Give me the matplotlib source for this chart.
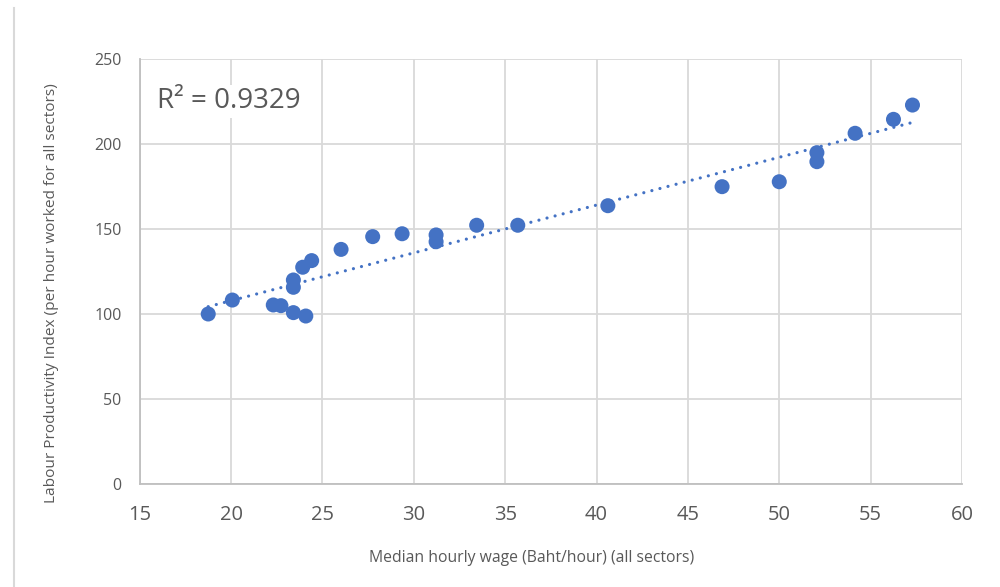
import numpy as np
import matplotlib
matplotlib.use("Agg")
import matplotlib.pyplot as plt
from matplotlib.lines import Line2D

wage = [18.75, 20.07, 22.31, 22.73, 23.41, 24.09, 23.41, 23.41, 23.92, 24.41,
        26.02, 27.75, 29.36, 31.22, 31.22, 33.44, 35.69, 40.62, 46.87, 50.0,
        52.06, 52.06, 54.15, 56.25, 57.29]
productivity = [100.0, 108.2, 105.3, 104.9, 100.8, 98.8, 115.7, 120.0, 127.5, 131.4,
                138.0, 145.5, 147.2, 146.5, 142.5, 152.2, 152.2, 163.7, 174.9, 177.8,
                189.6, 194.9, 206.3, 214.5, 222.9]
r2_label = "R² = 0.9329"
x_ticks = [15, 20, 25, 30, 35, 40, 45, 50, 55, 60]
y_ticks = [0, 50, 100, 150, 200, 250]
x_title = "Median hourly wage (Baht/hour) (all sectors)"
y_title = "Labour Productivity Index (per hour worked for all sectors)"

blue = "#4472C4"
grid_c = "#D9D9D9"
text_c = "#595959"
font = ["Open Sans", "DejaVu Sans"]
plt.rcParams["font.family"] = font

fig = plt.figure(figsize=(10, 5.87), dpi=100)
ax = fig.add_axes([0.1397, 0.1755, 0.8223, 0.724])

x = np.array(wage)
y = np.array(productivity)
coef = np.polyfit(x, y, 1)
xs = np.array([x.min(), x.max()])
ax.plot(xs, np.polyval(coef, xs), color=blue, lw=2.3,
        linestyle=(0, (0.01, 2.6)), dash_capstyle="round", zorder=2)
ax.scatter(x, y, s=117, color=blue, edgecolors="none", zorder=3)

ax.set_xlim(15, 60)
ax.set_ylim(0, 250)
ax.set_xticks(x_ticks)
ax.set_yticks(y_ticks)
ax.grid(True, color=grid_c, lw=1.3, zorder=0)
ax.set_axisbelow(True)
for s in ["top", "right"]:
    ax.spines[s].set_visible(False)
for s in ["left", "bottom"]:
    ax.spines[s].set_color("#BFBFBF")
    ax.spines[s].set_linewidth(1.3)
ax.tick_params(length=0, colors=text_c)
ax.tick_params(axis="x", labelsize=14.5, pad=15)
ax.tick_params(axis="y", labelsize=11.5, pad=13)

ax.set_xlabel(x_title, fontsize=11.3, color=text_c, labelpad=15)
ax.xaxis.set_label_coords(0.4765, -0.155)
ax.set_ylabel(y_title, fontsize=11.1, color=text_c)
ax.yaxis.set_label_coords(-0.098, 0.45)

ax.text(0.021, 0.9, r2_label, transform=ax.transAxes, fontsize=20, color=text_c,
        va="center", ha="left", zorder=4,
        bbox=dict(facecolor="white", edgecolor="none", pad=2))

fig.add_artist(Line2D([0.014, 0.014], [0.0, 1 - 8 / 587], color=grid_c, lw=1.5,
                      transform=fig.transFigure))

fig.savefig("out.png", dpi=100, facecolor="white")
